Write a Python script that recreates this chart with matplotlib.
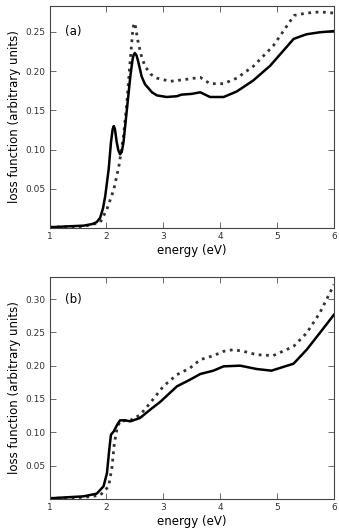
import numpy as np
import matplotlib
matplotlib.use("Agg")
import matplotlib.pyplot as plt

# panel (a)
a_solid_x = [1.0, 1.6, 1.75, 1.83, 1.89, 1.94, 1.98, 2.04, 2.08, 2.11, 2.13, 2.15, 2.18,
             2.21, 2.24, 2.27, 2.30, 2.36, 2.42, 2.46, 2.48, 2.50, 2.53, 2.56, 2.62,
             2.68, 2.73, 2.80, 2.89, 3.06, 3.24, 3.32, 3.50, 3.65, 3.82, 4.06,
             4.29, 4.58, 4.88, 5.29, 5.40, 5.52, 5.75, 6.0]
a_solid_y = [0.001, 0.003, 0.005, 0.0075, 0.013, 0.025, 0.041, 0.075, 0.109, 0.126,
             0.130, 0.126, 0.110, 0.099, 0.094, 0.097, 0.109, 0.151, 0.193, 0.215,
             0.221, 0.223, 0.220, 0.212, 0.193, 0.183, 0.179, 0.173, 0.169, 0.167,
             0.168, 0.170, 0.171, 0.173, 0.167, 0.167, 0.174, 0.188, 0.207, 0.241,
             0.244, 0.247, 0.2495, 0.251]
a_dot_x = [1.0, 1.6, 1.89, 2.01, 2.13, 2.22, 2.30, 2.36, 2.42, 2.46, 2.48, 2.49, 2.51,
           2.56, 2.62, 2.68, 2.78, 2.89, 3.12, 3.35, 3.65, 3.82, 4.06, 4.29, 4.58,
           4.93, 5.30, 5.52, 5.75, 6.0]
a_dot_y = [0.001, 0.002, 0.007, 0.024, 0.049, 0.079, 0.117, 0.160, 0.215, 0.249, 0.259,
           0.2615, 0.257, 0.236, 0.218, 0.206, 0.196, 0.191, 0.187, 0.189, 0.192, 0.184,
           0.184, 0.191, 0.206, 0.232, 0.271, 0.274, 0.2755, 0.274]

# panel (b)
b_solid_x = [1.0, 1.6, 1.83, 1.95, 2.01, 2.05, 2.08, 2.13, 2.19, 2.24, 2.33, 2.42, 2.59,
             2.77, 2.95, 3.24, 3.47, 3.65, 3.88, 4.06, 4.35, 4.64, 4.90, 5.29, 5.52,
             5.75, 6.0]
b_solid_y = [0.001, 0.004, 0.008, 0.019, 0.039, 0.074, 0.0965, 0.1015, 0.1115, 0.118,
             0.118, 0.1165, 0.1215, 0.134, 0.146, 0.169, 0.179, 0.1875, 0.1925, 0.199,
             0.200, 0.195, 0.1925, 0.203, 0.224, 0.249, 0.2765]
b_dot_x = [1.0, 1.6, 1.89, 2.04, 2.10, 2.14, 2.19, 2.24, 2.42, 2.59, 2.77, 3.0, 3.24,
           3.47, 3.65, 3.88, 4.06, 4.23, 4.41, 4.64, 4.93, 5.29, 5.52, 5.75, 6.0]
b_dot_y = [0.001, 0.0025, 0.0055, 0.019, 0.049, 0.084, 0.1065, 0.117, 0.118, 0.126,
           0.144, 0.169, 0.1865, 0.1965, 0.209, 0.215, 0.2215, 0.224, 0.2215, 0.2165,
           0.215, 0.229, 0.249, 0.279, 0.3215]

panels = [
    ("(a)", a_solid_x, a_solid_y, a_dot_x, a_dot_y, 0.283, [0.05, 0.10, 0.15, 0.20, 0.25]),
    ("(b)", b_solid_x, b_solid_y, b_dot_x, b_dot_y, 0.333, [0.05, 0.10, 0.15, 0.20, 0.25, 0.30]),
]

fig = plt.figure(figsize=(3.39, 5.32), dpi=100)
boxes = [[49.5, 6, 334, 228], [49.5, 277, 334, 499]]
W, H = 339, 532
for (tag, sx, sy, dx, dy, ytop, yt), (l, t, r, b) in zip(panels, boxes):
    ax = fig.add_axes([l / W, 1 - b / H, (r - l) / W, (b - t) / H])
    ax.plot(dx, dy, color="#333333", linestyle=":", linewidth=2)
    ax.plot(sx, sy, color="black", linestyle="-", linewidth=1.8)
    ax.set_xlim(1, 6)
    ax.set_ylim(0, ytop)
    ax.set_xticks([1, 2, 3, 4, 5, 6])
    ax.set_yticks(yt)
    ax.set_yticklabels([f"{v:.2f}" for v in yt])
    ax.tick_params(direction="in", top=True, right=True, labelsize=6.5, length=4,
                   width=0.5, colors="#333333", labelcolor="#333333", pad=3)
    for s in ax.spines.values():
        s.set_linewidth(0.8)
        s.set_color("#444444")
    ax.set_xlabel("energy (eV)", fontsize=8.5, labelpad=2)
    ax.set_ylabel("loss function (arbitrary units)", fontsize=8.5, labelpad=3)
    ax.text(1.27, yt[-1], tag, fontsize=8.5, va="center")

fig.savefig("out.png", dpi=100)
